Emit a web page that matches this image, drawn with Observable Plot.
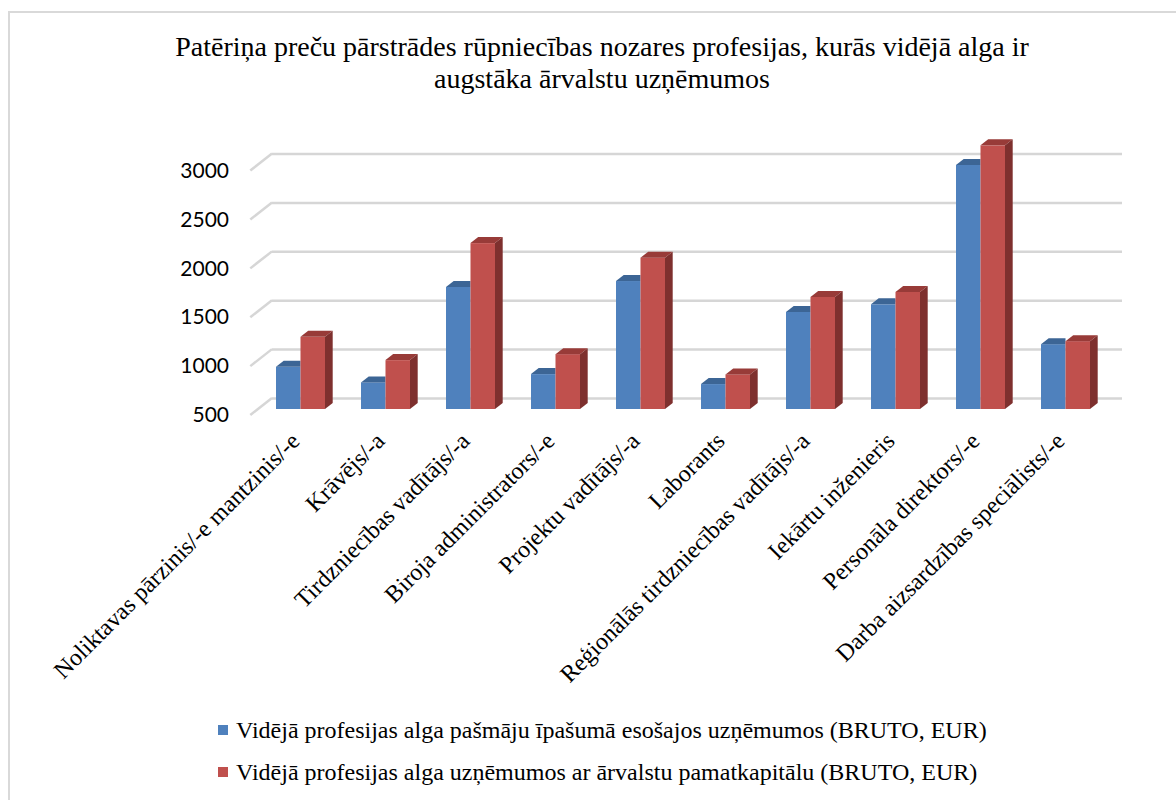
<!DOCTYPE html>
<html>
<head>
<meta charset="utf-8">
<script src="https://cdn.jsdelivr.net/npm/d3@7"></script>
<script src="https://cdn.jsdelivr.net/npm/@observablehq/plot@0.6"></script>
<style>
  html, body { margin: 0; padding: 0; background: #fff; }
  body { width: 1176px; height: 800px; overflow: hidden; position: relative; color: #000; }
  #frame { position: absolute; left: 8px; top: 11px; width: 1200px; height: 820px; border-left: 2px solid #d9d9d9; border-top: 2px solid #d9d9d9; }
  #title { position: absolute; left: 102px; width: 1000px; top: 31px; text-align: center; font-size: 28px; line-height: 32px; font-family: 'Liberation Serif', 'DejaVu Serif', serif; }
  #chart { position: absolute; left: 0; top: 100px; }
  #legend { position: absolute; left: 218px; top: 709px; font-size: 24px; line-height: 42px; font-family: 'Liberation Serif', 'DejaVu Serif', serif; }
  .item { display: flex; align-items: center; white-space: nowrap; }
  .sw { width: 10px; height: 10px; margin-right: 8px; flex: none; }
</style>
</head>
<body>
<div id="frame"></div>
<div id="title">Patēriņa preču pārstrādes rūpniecības nozares profesijas, kurās vidējā alga ir<br>augstāka ārvalstu uzņēmumos</div>
<div id="chart"></div>
<div id="legend"></div>
<script>
const categories = [
  "Noliktavas pārzinis/-e mantzinis/-e",
  "Krāvējs/-a",
  "Tirdzniecības vadītājs/-a",
  "Biroja administrators/-e",
  "Projektu vadītājs/-a",
  "Laborants",
  "Reģionālās tirdzniecības vadītājs/-a",
  "Iekārtu inženieris",
  "Personāla direktors/-e",
  "Darba aizsardzības speciālists/-e"
];
const domesticValues = [932, 772, 1748, 857, 1809, 755, 1493, 1571, 2997, 1163];
const foreignValues  = [1238, 1000, 2197, 1061, 2048, 854, 1646, 1697, 3197, 1194];
const seriesNames = [
  "Vidējā profesijas alga pašmāju īpašumā esošajos uzņēmumos (BRUTO, EUR)",
  "Vidējā profesijas alga uzņēmumos ar ārvalstu pamatkapitālu (BRUTO, EUR)"
];
const yTicks = [500, 1000, 1500, 2000, 2500, 3000];

// styles
const blue = "#4F81BD", blueTop = "#3C6595";
const red = "#C0504D", redTop = "#983B38", redSide = "#7E302E";
const gridColor = "#d6d6d6";
const depthX = 7.7, depthY = 6;      // bar depth (px)
const wallX = 14, wallY = 11;        // back wall offset (px)
const floorX = 7.7, floorY = 6;      // front floor edge offset (px)
const half = 24.5;
const baseValue = yTicks[0];

const domesticRows = categories.map((c, i) => ({cat: c, value: domesticValues[i]}));
const foreignRows = categories.map((c, i) => ({cat: c, value: foreignValues[i]}));

const plot = Plot.plot({
  width: 1176,
  height: 600,
  marginLeft: 258,
  marginRight: 68,
  marginTop: 0,
  marginBottom: 0,
  style: {background: "transparent", overflow: "visible"},
  x: {domain: categories, paddingInner: 0.4237, paddingOuter: 0.21, axis: null},
  y: {domain: [500, 3000], range: [309, 64.6], axis: null},
  marks: [
    Plot.ruleY(yTicks, {stroke: gridColor, strokeWidth: 2.5, dx: wallX, dy: -wallY}),
    Plot.axisY(yTicks, {label: null, tickSize: 0, tickPadding: 29.5, dy: 6, fontSize: 21, fontFamily: "Lato", fill: "#000", tickFormat: d => String(d)}),
    Plot.barY(domesticRows, {x: "cat", y1: () => baseValue, y2: "value", fill: blue, insetRight: half}),
    Plot.barY(foreignRows, {x: "cat", y1: () => baseValue, y2: "value", fill: red, insetLeft: half}),
    Plot.text(categories, {x: d => d, y: () => baseValue, rotate: -45, textAnchor: "end", lineAnchor: "bottom", dx: 0, dy: 33, fontSize: 24, fontFamily: "Liberation Serif", fill: "#000"})
  ]
});
document.getElementById("chart").appendChild(plot);

// 3D faces computed through the plot's own scales
const sx = plot.scale("x"), sy = plot.scale("y");
const svg = d3.select(plot);
const barGroups = svg.selectAll('g[aria-label="bar"]').nodes();
const ruleGroup = svg.select('g[aria-label="rule"]').node();

// left side-wall diagonals
const diag = d3.create("svg:g").attr("stroke", gridColor).attr("stroke-width", 2.5).attr("fill", "none");
const left = sx.range[0];
yTicks.forEach(v => {
  const y = sy.apply(v);
  diag.append("line").attr("x1", left - floorX).attr("y1", y + floorY).attr("x2", left + wallX).attr("y2", y - wallY);
});
ruleGroup.parentNode.insertBefore(diag.node(), ruleGroup.nextSibling);

const poly = pts => pts.map(p => p.join(",")).join(" ");

// blue top faces (under red bars)
const blueFaces = d3.create("svg:g");
domesticRows.forEach((d, i) => {
  const x0 = sx.apply(d.cat), x1 = x0 + sx.bandwidth - half;
  const yt = sy.apply(d.value);
  const redTall = foreignValues[i] >= d.value;
  const pts = redTall
    ? [[x0, yt], [x1, yt], [x1, yt - depthY], [x0 + depthX, yt - depthY]]
    : [[x0, yt], [x1, yt], [x1 + depthX, yt - depthY], [x0 + depthX, yt - depthY]];
  blueFaces.append("polygon").attr("points", poly(pts)).attr("fill", blueTop);
});
barGroups[0].parentNode.insertBefore(blueFaces.node(), barGroups[1]);

// red top + side faces
const redFaces = d3.create("svg:g");
foreignRows.forEach(d => {
  const x0 = sx.apply(d.cat) + half, x1 = sx.apply(d.cat) + sx.bandwidth;
  const yt = sy.apply(d.value), yb = sy.apply(baseValue);
  redFaces.append("polygon").attr("points", poly([[x0, yt], [x1, yt], [x1 + depthX, yt - depthY], [x0 + depthX, yt - depthY]])).attr("fill", redTop);
  redFaces.append("polygon").attr("points", poly([[x1, yt], [x1 + depthX, yt - depthY], [x1 + depthX, yb - depthY], [x1, yb]])).attr("fill", redSide);
});
barGroups[1].parentNode.insertBefore(redFaces.node(), barGroups[1].nextSibling);

// legend
const legend = d3.select("#legend");
seriesNames.forEach((name, i) => {
  const item = legend.append("div").attr("class", "item");
  item.append("div").attr("class", "sw").style("background", i === 0 ? blue : red);
  item.append("span").text(name);
});
</script>
</body>
</html>
